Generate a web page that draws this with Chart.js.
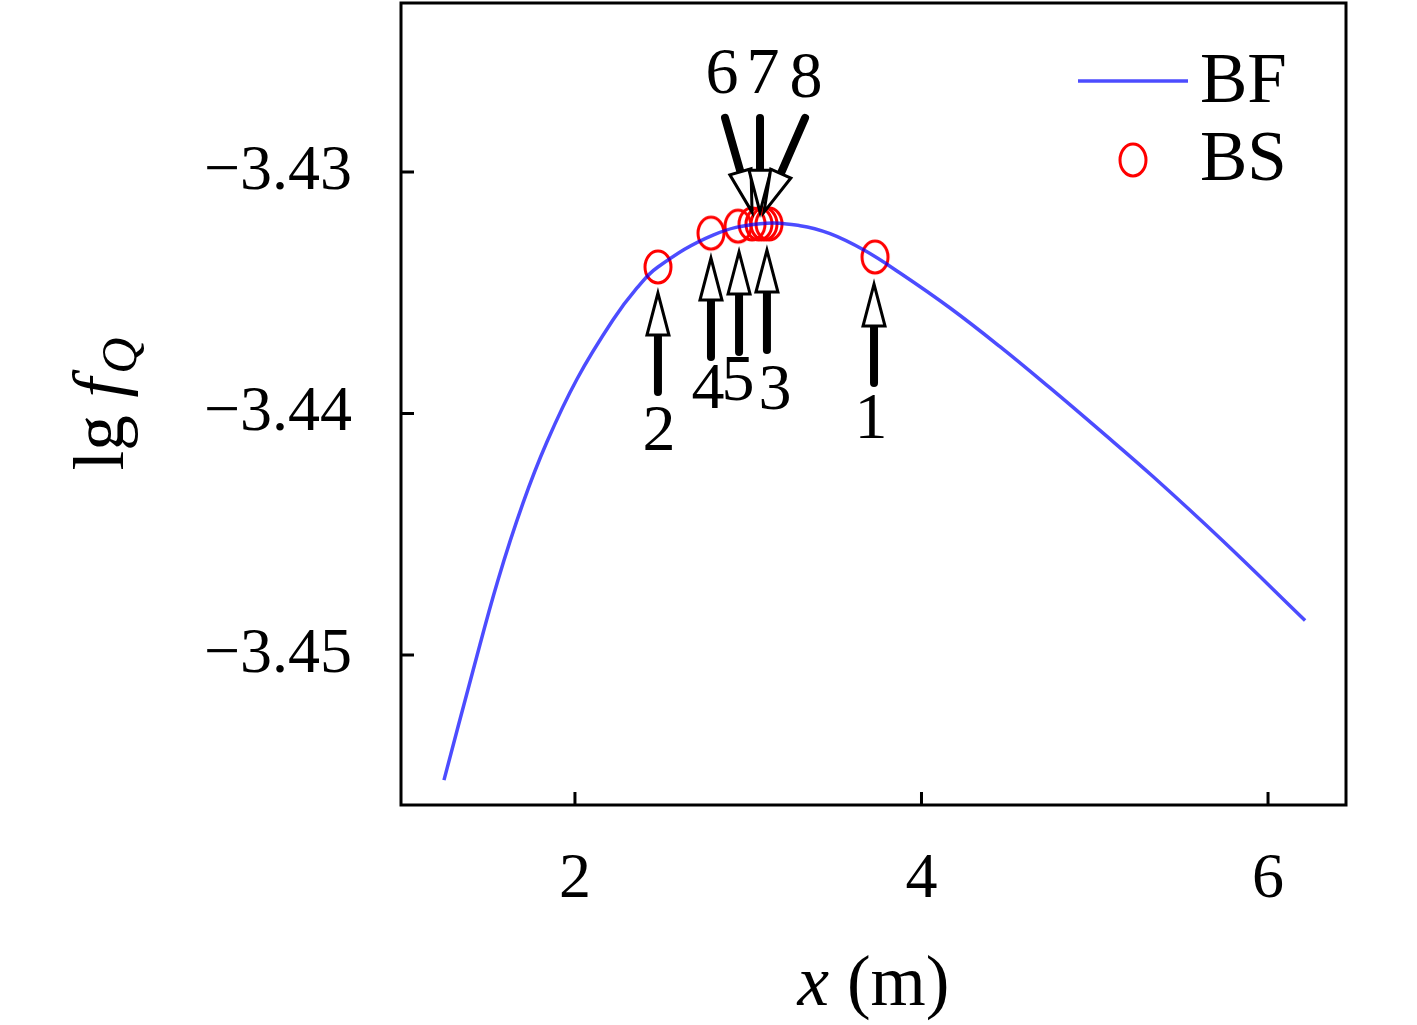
<!DOCTYPE html>
<html lang="en">
<head>
<meta charset="UTF-8">
<title>lg fQ versus x</title>
<script src="https://cdn.jsdelivr.net/npm/chart.js"></script>
<style>
  html, body { margin: 0; padding: 0; background: #fff; }
</style>
</head>
<body>
<canvas id="myChart" width="1417" height="1025"></canvas>
<script>
// BF: fitted curve
const bfX = [1.244, 1.411, 1.556, 1.700, 1.838, 2.012, 2.219, 2.358, 2.479, 2.797, 3.068,
             3.299, 3.472, 3.668, 3.876, 4.165, 4.453, 4.742, 5.030, 5.336, 5.740, 6.214];
const bfY = [-3.45518, -3.45066, -3.44689, -3.44371, -3.44118, -3.43857, -3.43613, -3.43480,
             -3.43393, -3.43261, -3.43214, -3.43222, -3.43255, -3.43323, -3.43418, -3.43563,
             -3.43723, -3.43894, -3.44070, -3.44261, -3.44528, -3.44857];

// BS: search steps 1..8
const bsNames = ['1', '2', '3', '4', '5', '6', '7', '8'];
const bsX = [3.732, 2.479, 3.120, 2.785, 2.941, 3.022, 3.062, 3.091];
const bsY = [-3.43352, -3.43393, -3.43215, -3.43253, -3.43224, -3.43215, -3.43215, -3.43215];

// arrows pointing at each BS step (data units)
const arrowTailX = [3.726, 2.479, 3.108, 2.785, 2.947, 2.866, 3.068, 3.328];
const arrowTailY = [-3.43874, -3.43911, -3.43737, -3.43766, -3.43745, -3.42776, -3.42776, -3.42776];
const arrowTipX  = [3.726, 2.479, 3.108, 2.785, 2.947, 3.022, 3.068, 3.091];
const arrowTipY  = [-3.43464, -3.43501, -3.43323, -3.43356, -3.43331, -3.43166, -3.43166, -3.43166];
const labelX = [3.709, 2.485, 3.154, 2.768, 2.941, 2.848, 3.085, 3.333];
const labelY = [-3.44031, -3.44081, -3.43911, -3.43907, -3.43874, -3.42602, -3.42602, -3.42619];

const xTicks = [2, 4, 6];
const yTicks = [-3.45, -3.44, -3.43];

const SERIF = '"Liberation Serif", "Times New Roman", serif';
const BLUE = 'rgba(0, 0, 255, 0.7)';
const RED = '#ff0000';

// open ellipse marker, slightly taller than wide like in the figure
function ellipseMarker() {
    const c = document.createElement('canvas');
    c.width = 36; c.height = 42;
    const g = c.getContext('2d');
    g.strokeStyle = RED;
    g.lineWidth = 3;
    g.beginPath();
    g.ellipse(18, 21, 13, 16, 0, 0, Math.PI * 2);
    g.stroke();
    return c;
}
const marker = ellipseMarker();

function drawArrow(ctx, x0, y0, x1, y1) {
    const dx = x1 - x0, dy = y1 - y0;
    const len = Math.hypot(dx, dy);
    const ux = dx / len, uy = dy / len;
    const headLen = 42, headW = 11;
    const bx = x1 - ux * headLen, by = y1 - uy * headLen;
    ctx.strokeStyle = '#000';
    ctx.lineWidth = 8;
    ctx.lineCap = 'round';
    ctx.beginPath();
    ctx.moveTo(x0, y0);
    ctx.lineTo(bx, by);
    ctx.stroke();
    ctx.lineCap = 'butt';
    ctx.lineJoin = 'miter';
    ctx.lineWidth = 3;
    ctx.beginPath();
    ctx.moveTo(x1, y1);
    ctx.lineTo(bx - uy * headW, by + ux * headW);
    ctx.lineTo(bx + uy * headW, by - ux * headW);
    ctx.closePath();
    ctx.fillStyle = '#fff';
    ctx.fill();
    ctx.stroke();
}

const decorations = {
    id: 'decorations',
    afterDatasetsDraw(chart) {
        const ctx = chart.ctx;
        const a = chart.chartArea;
        const xs = chart.scales.x, ys = chart.scales.y;
        ctx.save();

        // frame + inward ticks
        ctx.strokeStyle = '#000';
        ctx.lineWidth = 3;
        ctx.strokeRect(a.left, a.top, a.right - a.left, a.bottom - a.top);
        ctx.beginPath();
        xTicks.forEach(v => {
            const p = xs.getPixelForValue(v);
            ctx.moveTo(p, a.bottom);
            ctx.lineTo(p, a.bottom - 13);
        });
        yTicks.forEach(v => {
            const p = ys.getPixelForValue(v);
            ctx.moveTo(a.left, p);
            ctx.lineTo(a.left + 13, p);
        });
        ctx.stroke();

        // arrows and step numbers
        for (let i = 0; i < bsNames.length; i++) {
            drawArrow(ctx,
                xs.getPixelForValue(arrowTailX[i]), ys.getPixelForValue(arrowTailY[i]),
                xs.getPixelForValue(arrowTipX[i]), ys.getPixelForValue(arrowTipY[i]));
        }
        ctx.fillStyle = '#000';
        ctx.font = '66px ' + SERIF;
        ctx.textAlign = 'center';
        ctx.textBaseline = 'middle';
        for (let i = 0; i < bsNames.length; i++) {
            ctx.fillText(bsNames[i], xs.getPixelForValue(labelX[i]), ys.getPixelForValue(labelY[i]));
        }

        // legend
        const lx = a.right - 268, ly = a.top + 78;
        ctx.strokeStyle = BLUE;
        ctx.lineWidth = 3.5;
        ctx.beginPath();
        ctx.moveTo(lx, ly);
        ctx.lineTo(lx + 110, ly);
        ctx.stroke();
        ctx.drawImage(marker, lx + 55 - marker.width / 2, ly + 79 - marker.height / 2);
        ctx.fillStyle = '#000';
        ctx.font = '71px ' + SERIF;
        ctx.textAlign = 'left';
        ctx.textBaseline = 'alphabetic';
        ctx.fillText(chart.data.datasets[0].label, lx + 122, ly + 21);
        ctx.fillText(chart.data.datasets[1].label, lx + 122, ly + 99);

        // x axis title: x (m)
        const cx = (a.left + a.right) / 2;
        ctx.font = 'italic 71px ' + SERIF;
        const wx = ctx.measureText('x').width;
        ctx.font = '71px ' + SERIF;
        const wr = ctx.measureText(' (m)').width;
        let sx = cx - (wx + wr) / 2;
        ctx.font = 'italic 71px ' + SERIF;
        ctx.fillText('x', sx, 1005);
        ctx.font = '71px ' + SERIF;
        ctx.fillText(' (m)', sx + wx, 1005);

        // y axis title: lg f_Q
        ctx.translate(123, (a.top + a.bottom) / 2);
        ctx.rotate(-Math.PI / 2);
        ctx.font = '71px ' + SERIF;
        const w1 = ctx.measureText('lg ').width;
        ctx.font = 'italic 71px ' + SERIF;
        const w2 = ctx.measureText('f').width + 4;
        ctx.font = 'italic 50px ' + SERIF;
        const w3 = ctx.measureText('Q').width;
        let ty = -(w1 + w2 + w3) / 2;
        ctx.font = '71px ' + SERIF;
        ctx.fillText('lg ', ty, 0);
        ctx.font = 'italic 71px ' + SERIF;
        ctx.fillText('f', ty + w1, 0);
        ctx.font = 'italic 50px ' + SERIF;
        ctx.fillText('Q', ty + w1 + w2, 13);

        ctx.restore();
    }
};

const ctx = document.getElementById('myChart').getContext('2d');
const myChart = new Chart(ctx, {
    type: 'scatter',
    data: {
        datasets: [{
            label: 'BF',
            type: 'line',
            data: bfX.map((x, i) => ({ x: x, y: bfY[i] })),
            borderColor: BLUE,
            borderWidth: 3.5,
            pointRadius: 0,
            fill: false,
            tension: 0.4
        }, {
            label: 'BS',
            data: bsX.map((x, i) => ({ x: x, y: bsY[i] })),
            pointStyle: marker,
            pointRadius: 16,
            borderColor: RED,
            backgroundColor: 'rgba(0,0,0,0)'
        }]
    },
    options: {
        responsive: false,
        animation: false,
        devicePixelRatio: 1,
        layout: { autoPadding: false, padding: { top: 3, right: 71, left: 0, bottom: 0 } },
        plugins: {
            legend: { display: false },
            tooltip: { enabled: false }
        },
        scales: {
            x: {
                type: 'linear',
                min: 0.996,
                max: 6.45,
                grid: { display: false, drawTicks: false },
                border: { display: false },
                ticks: {
                    padding: 37,
                    color: '#000',
                    font: { family: SERIF, size: 64 }
                },
                afterBuildTicks: s => { s.ticks = xTicks.map(v => ({ value: v })); },
                afterFit: s => { s.height = 220; s.paddingLeft = 0; s.paddingRight = 0; }
            },
            y: {
                type: 'linear',
                min: -3.45621,
                max: -3.42300,
                grid: { display: false, drawTicks: false },
                border: { display: false },
                ticks: {
                    padding: 49,
                    color: '#000',
                    font: { family: SERIF, size: 64 },
                    callback: v => (v < 0 ? '\u2212' : '') + Math.abs(v).toFixed(2)
                },
                afterBuildTicks: s => { s.ticks = yTicks.map(v => ({ value: v })); },
                afterFit: s => { s.width = 401; s.paddingTop = 0; s.paddingBottom = 0; }
            }
        }
    },
    plugins: [decorations]
});
</script>
</body>
</html>
